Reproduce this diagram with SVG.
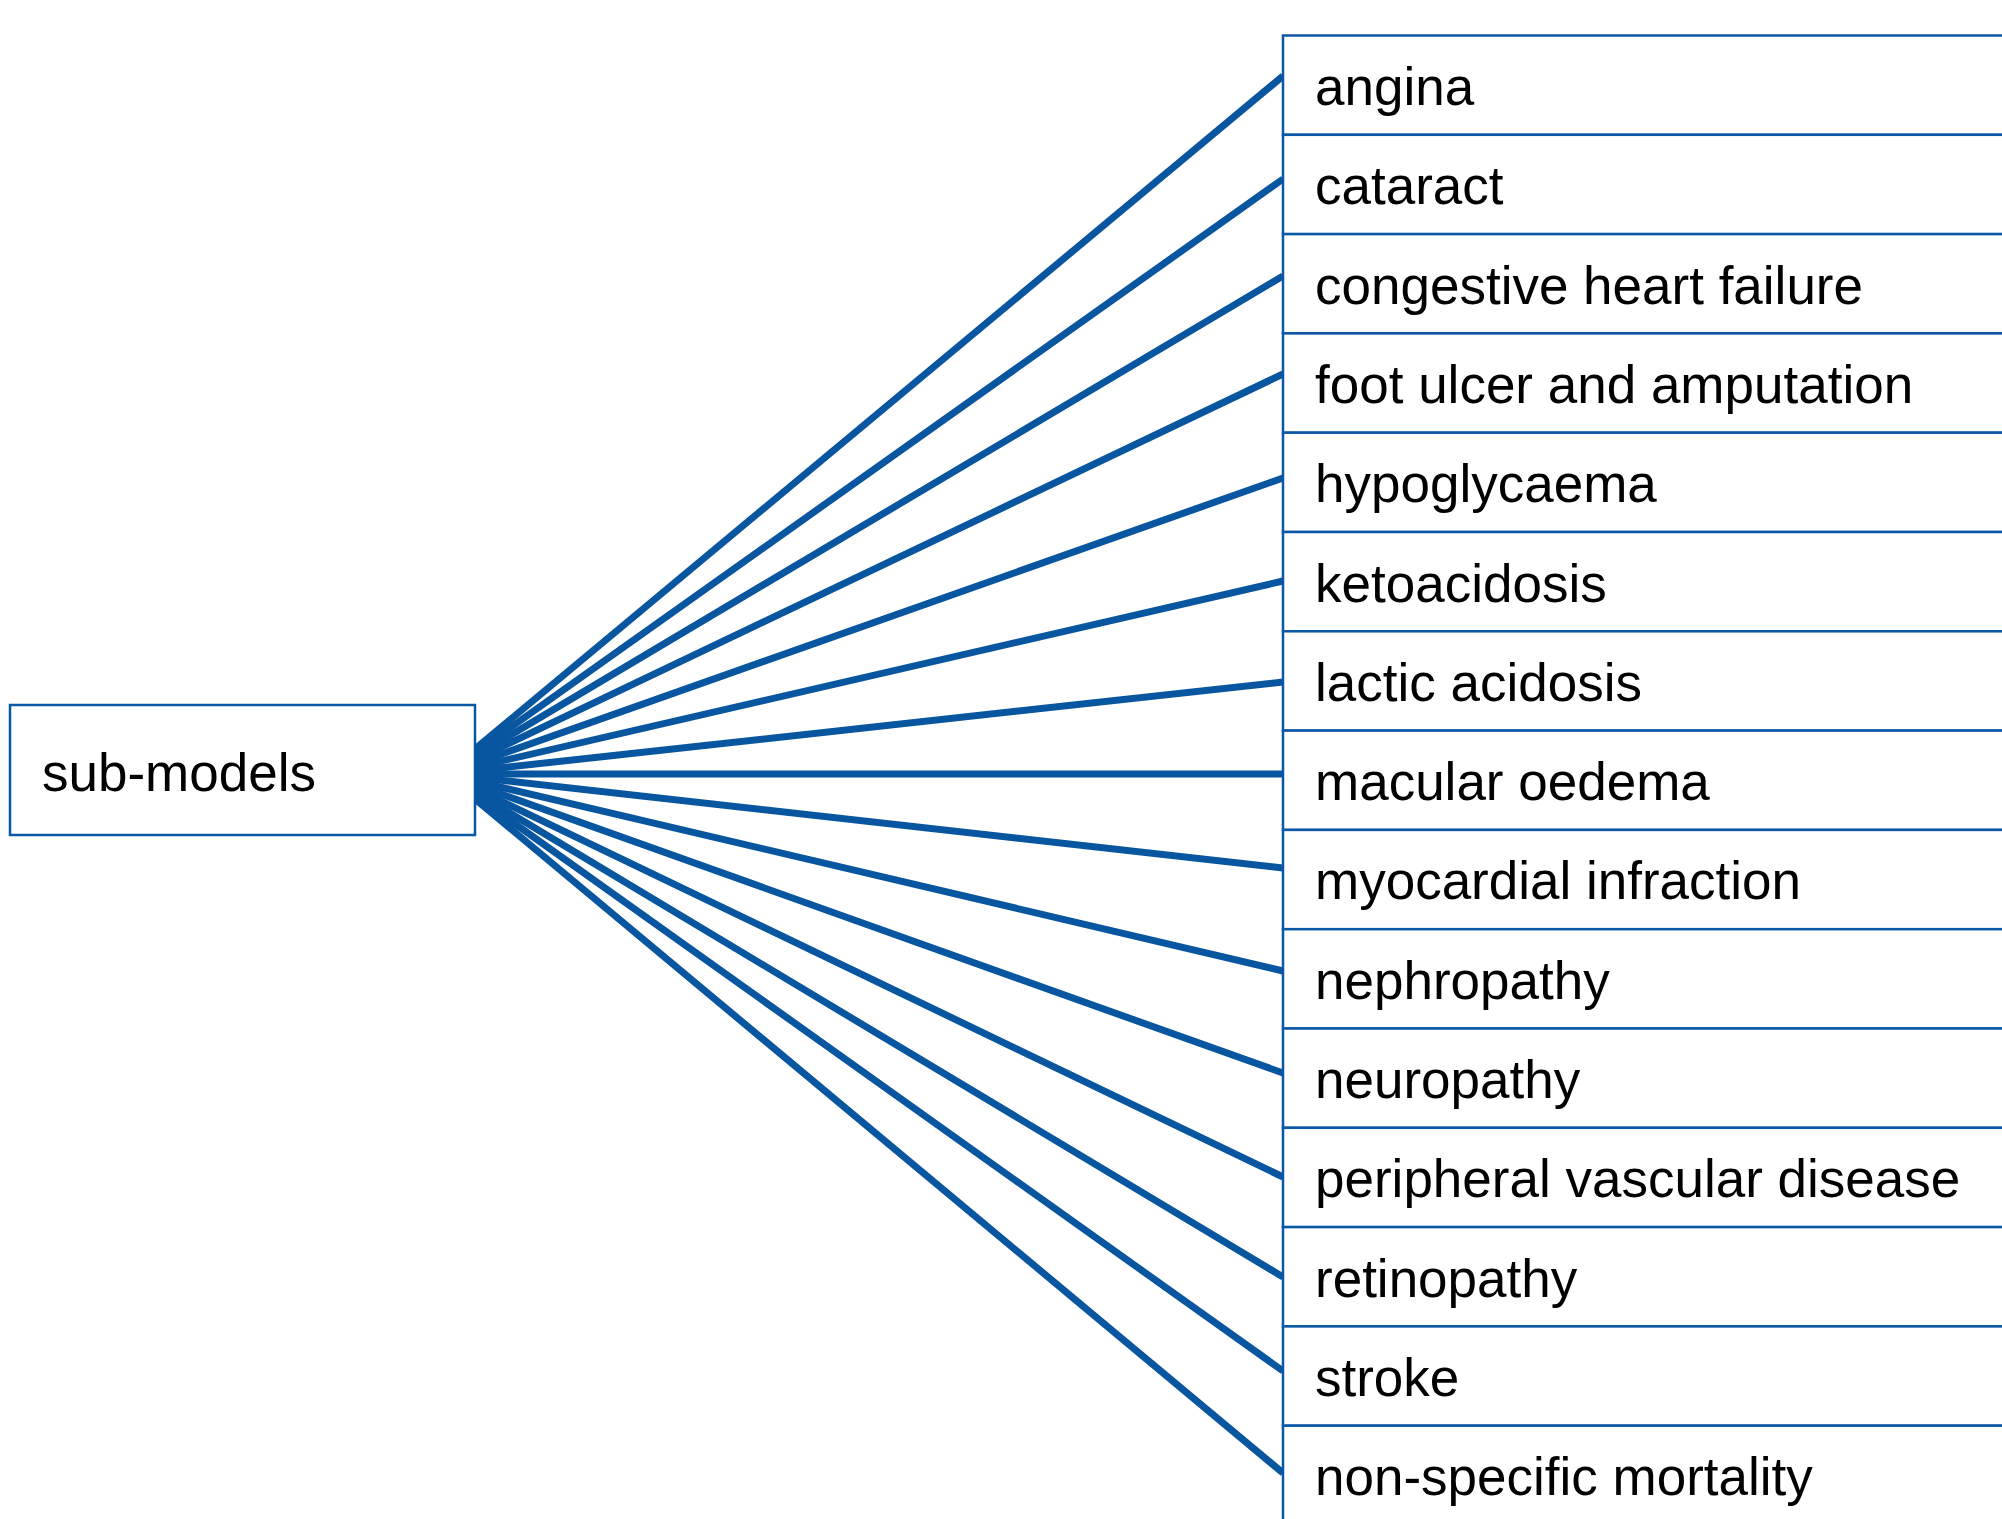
<svg xmlns="http://www.w3.org/2000/svg" width="2002" height="1519" viewBox="0 0 2002 1519">
<style>
.box{fill:#ffffff;stroke:#0a58a5;stroke-width:2.5}
.lbl{font-family:"Liberation Sans",Arial,sans-serif;font-size:53px;fill:#000000}
.con{stroke:#0855a0;stroke-width:7;fill:none}
</style>
<rect x="0" y="0" width="2002" height="1519" fill="#ffffff"/>
<g id="connectors">
<line class="con" x1="445" y1="774" x2="1283" y2="76"/>
<line class="con" x1="445" y1="774" x2="1283" y2="179"/>
<line class="con" x1="445" y1="774" x2="1283" y2="276"/>
<line class="con" x1="445" y1="774" x2="1283" y2="374"/>
<line class="con" x1="445" y1="774" x2="1283" y2="478"/>
<line class="con" x1="445" y1="774" x2="1283" y2="581"/>
<line class="con" x1="445" y1="774" x2="1283" y2="682"/>
<line class="con" x1="445" y1="774" x2="1283" y2="774"/>
<line class="con" x1="445" y1="774" x2="1283" y2="868"/>
<line class="con" x1="445" y1="774" x2="1283" y2="971"/>
<line class="con" x1="445" y1="774" x2="1283" y2="1073"/>
<line class="con" x1="445" y1="774" x2="1283" y2="1177"/>
<line class="con" x1="445" y1="774" x2="1283" y2="1277"/>
<line class="con" x1="445" y1="774" x2="1283" y2="1371"/>
<line class="con" x1="445" y1="774" x2="1283" y2="1473"/>
</g>
<g id="sub-models">
<rect class="box" x="10" y="705" width="465" height="130"/>
<text class="lbl" x="42" y="791">sub-models</text>
</g>
<g id="angina"><rect class="box" x="1283" y="35.5" width="740" height="99.3"/><text class="lbl" x="1315" y="105">angina</text></g>
<g id="cataract"><rect class="box" x="1283" y="134.8" width="740" height="99.3"/><text class="lbl" x="1315" y="204.3">cataract</text></g>
<g id="chf"><rect class="box" x="1283" y="234.1" width="740" height="99.3"/><text class="lbl" x="1315" y="303.6">congestive heart failure</text></g>
<g id="foot"><rect class="box" x="1283" y="333.4" width="740" height="99.3"/><text class="lbl" x="1315" y="402.9">foot ulcer and amputation</text></g>
<g id="hypo"><rect class="box" x="1283" y="432.7" width="740" height="99.3"/><text class="lbl" x="1315" y="502.2">hypoglycaema</text></g>
<g id="keto"><rect class="box" x="1283" y="532" width="740" height="99.3"/><text class="lbl" x="1315" y="601.5">ketoacidosis</text></g>
<g id="lactic"><rect class="box" x="1283" y="631.3" width="740" height="99.3"/><text class="lbl" x="1315" y="700.8">lactic acidosis</text></g>
<g id="macular"><rect class="box" x="1283" y="730.6" width="740" height="99.3"/><text class="lbl" x="1315" y="800.1">macular oedema</text></g>
<g id="myocardial"><rect class="box" x="1283" y="829.9" width="740" height="99.3"/><text class="lbl" x="1315" y="899.4">myocardial infraction</text></g>
<g id="nephropathy"><rect class="box" x="1283" y="929.2" width="740" height="99.3"/><text class="lbl" x="1315" y="998.7">nephropathy</text></g>
<g id="neuropathy"><rect class="box" x="1283" y="1028.5" width="740" height="99.3"/><text class="lbl" x="1315" y="1098">neuropathy</text></g>
<g id="pvd"><rect class="box" x="1283" y="1127.8" width="740" height="99.3"/><text class="lbl" x="1315" y="1197.3">peripheral vascular disease</text></g>
<g id="retinopathy"><rect class="box" x="1283" y="1227.1" width="740" height="99.3"/><text class="lbl" x="1315" y="1296.6">retinopathy</text></g>
<g id="stroke"><rect class="box" x="1283" y="1326.4" width="740" height="99.3"/><text class="lbl" x="1315" y="1395.9">stroke</text></g>
<g id="mortality"><rect class="box" x="1283" y="1425.7" width="740" height="99.3"/><text class="lbl" x="1315" y="1495.2">non-specific mortality</text></g>
</svg>
